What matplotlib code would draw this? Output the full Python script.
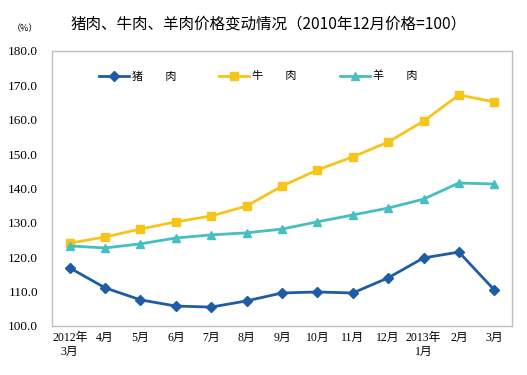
import matplotlib
matplotlib.use("Agg")
import matplotlib.pyplot as plt

months = ["2012年\n3月", "4月", "5月", "6月", "7月", "8月", "9月", "10月",
          "11月", "12月", "2013年\n1月", "2月", "3月"]
pork = [116.9, 111.1, 107.6, 105.8, 105.5, 107.3, 109.6, 109.9, 109.6, 114.0, 119.8, 121.5, 110.5]
beef = [124.1, 125.9, 128.2, 130.3, 132.0, 134.9, 140.7, 145.4, 149.2, 153.5, 159.6, 167.2, 165.2]
mutton = [123.3, 122.7, 123.9, 125.6, 126.5, 127.1, 128.2, 130.3, 132.3, 134.3, 136.9, 141.6, 141.3]
series_names = ["猪　　肉", "牛　　肉", "羊　　肉"]
yticks = [100, 110, 120, 130, 140, 150, 160, 170, 180]

cjk = ["Noto Sans CJK SC", "DejaVu Sans"]
mixed = ["Liberation Serif", "Noto Sans CJK SC"]

fig = plt.figure(figsize=(5.27, 3.75), dpi=100)
ax = fig.add_axes([0.0987, 0.1307, 0.8728, 0.7333])

x = list(range(len(months)))
c_pork = "#1F5CA6"
c_beef = "#F7C51A"
c_mut = "#45BFC0"
l1, = ax.plot(x, pork, color=c_pork, marker="D", markersize=5, lw=2.0)
l2, = ax.plot(x, beef, color=c_beef, marker="s", markersize=6, lw=2.0)
l3, = ax.plot(x, mutton, color=c_mut, marker="^", markersize=6, lw=2.0)

ax.set_xlim(-0.5, len(months) - 0.5)
ax.set_ylim(100, 180)
ax.set_yticks(yticks)
ax.set_yticklabels([f"{v:.1f}" for v in yticks], family=mixed, fontsize=9.5)
ax.set_xticks(x)
ax.set_xticklabels(months, family=mixed, fontsize=8.5, linespacing=1.3)
for lab in ax.get_xticklabels():
    lab.set_verticalalignment("top")
ax.tick_params(axis="both", length=0, pad=4)
ax.tick_params(axis="y", pad=10)
for s in ax.spines.values():
    s.set_color("#BFBFBF")
    s.set_linewidth(1.0)

handles = [l1, l2, l3]
ax.legend(handles, series_names, loc="upper left", bbox_to_anchor=(0.08, 0.965),
          ncol=3, frameon=False, prop={"family": cjk, "size": 8},
          handlelength=2.7, handletextpad=0.25, columnspacing=3.9)

fig.text(0.133, 0.935, "猪肉、牛肉、羊肉价格变动情况（2010年12月价格=100）",
         family=cjk, fontsize=11.2, va="center")
fig.text(0.022, 0.924, "（%）", family=cjk, fontsize=6.5, va="center")

fig.savefig("out.png", dpi=100)
